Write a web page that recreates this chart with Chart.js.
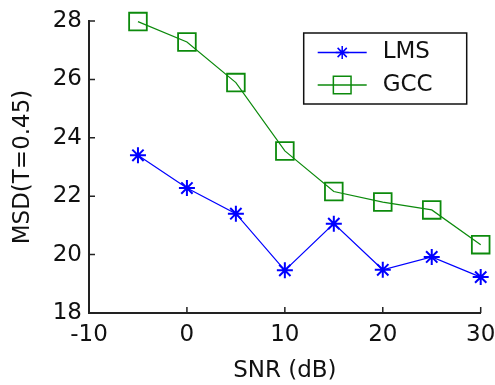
<!DOCTYPE html>
<html>
<head>
<meta charset="utf-8">
<script src="https://cdn.jsdelivr.net/npm/chart.js@4/dist/chart.umd.min.js"></script>
<style>
html,body{margin:0;padding:0;background:#fff;}
#wrap{width:495px;height:385px;}
</style>
</head>
<body>
<div id="wrap"><canvas id="c" width="495" height="385"></canvas></div>
<script>
const snr = [-5, 0, 5, 10, 15, 20, 25, 30];
const lms = [23.40, 22.28, 21.40, 19.46, 21.06, 19.48, 19.92, 19.23];
const gcc = [27.98, 27.28, 25.89, 23.55, 22.16, 21.80, 21.53, 20.34];
const xTicks = [-10, 0, 10, 20, 30];
const yTicks = [18, 20, 22, 24, 26, 28];
const seriesNames = ['LMS', 'GCC'];
const xTitle = 'SNR (dB)';
const yTitle = 'MSD(T=0.45)';

const FONT = '"DejaVu Sans", "Liberation Sans", Arial, sans-serif';
const BLUE = '#0000ff';
const GREEN = '#0c8a0c';

const tickPlugin = {
  id: 'innerTicks',
  afterDraw(chart) {
    const {ctx} = chart;
    const xs = chart.scales.x, ys = chart.scales.y;
    ctx.save();
    ctx.strokeStyle = '#222';
    ctx.lineWidth = 1.5;
    ctx.beginPath();
    xs.ticks.forEach(t => {
      const px = xs.getPixelForValue(t.value);
      ctx.moveTo(px, ys.bottom);
      ctx.lineTo(px, ys.bottom - 6);
    });
    ys.ticks.forEach(t => {
      const py = ys.getPixelForValue(t.value);
      ctx.moveTo(xs.left, py);
      ctx.lineTo(xs.left + 6, py);
    });
    ctx.stroke();
    ctx.restore();
  }
};

const legendPlugin = {
  id: 'boxLegend',
  afterDraw(chart) {
    const {ctx, chartArea} = chart;
    const w = 163, h = 71;
    const x0 = chartArea.right - 177, y0 = chartArea.top + 12;
    ctx.save();
    ctx.fillStyle = '#fff';
    ctx.fillRect(x0, y0, w, h);
    ctx.strokeStyle = '#111';
    ctx.lineWidth = 1.5;
    ctx.strokeRect(x0, y0, w, h);
    chart.data.datasets.forEach((ds, i) => {
      const cy = y0 + 19.5 + i * 32.5;
      ctx.strokeStyle = ds.borderColor;
      ctx.lineWidth = 1.5;
      ctx.beginPath();
      ctx.moveTo(x0 + 14, cy);
      ctx.lineTo(x0 + 63, cy);
      ctx.stroke();
      ctx.fillStyle = 'rgba(0,0,0,0)';
      Chart.helpers.drawPoint(ctx, {
        pointStyle: ds.pointStyle,
        radius: ds.pointStyle === 'star' ? 6.5 : ds.pointRadius,
        borderWidth: ds.pointBorderWidth,
        rotation: 0
      }, x0 + 38.5, cy);
      ctx.fillStyle = '#111';
      ctx.font = '23px ' + FONT;
      ctx.textBaseline = 'middle';
      ctx.textAlign = 'left';
      ctx.fillText(ds.label, x0 + 79, cy);
    });
    ctx.restore();
  }
};

new Chart(document.getElementById('c'), {
  type: 'line',
  data: {
    datasets: [
      {
        label: seriesNames[0],
        data: snr.map((x, i) => ({x: x, y: lms[i]})),
        borderColor: BLUE,
        backgroundColor: 'rgba(0,0,0,0)',
        borderWidth: 1.2,
        pointStyle: 'star',
        pointRadius: 8,
        pointBorderWidth: 2,
        pointBorderColor: BLUE,
        pointBackgroundColor: 'rgba(0,0,0,0)',
        tension: 0,
        clip: false
      },
      {
        label: seriesNames[1],
        data: snr.map((x, i) => ({x: x, y: gcc[i]})),
        borderColor: GREEN,
        backgroundColor: 'rgba(0,0,0,0)',
        borderWidth: 1.2,
        pointStyle: 'rect',
        pointRadius: 12.5,
        pointBorderWidth: 1.8,
        pointBorderColor: GREEN,
        pointBackgroundColor: 'rgba(0,0,0,0)',
        tension: 0,
        clip: false
      }
    ]
  },
  options: {
    responsive: false,
    animation: false,
    devicePixelRatio: 1,
    layout: {padding: {top: 21, right: 14, left: 0, bottom: 0}},
    plugins: {
      legend: {display: false},
      tooltip: {enabled: false}
    },
    scales: {
      x: {
        type: 'linear',
        min: xTicks[0],
        max: xTicks[xTicks.length - 1],
        afterBuildTicks: s => { s.ticks = xTicks.map(v => ({value: v})); },
        afterFit: s => { s.height = 72; s.paddingLeft = 0; s.paddingRight = 0; },
        grid: {display: false, drawTicks: false},
        border: {display: true, color: '#222', width: 2},
        ticks: {color: '#111', font: {family: FONT, size: 23}, padding: 8, maxRotation: 0},
        title: {display: true, text: xTitle, color: '#111', font: {family: FONT, size: 23}, padding: {top: 0, bottom: 0}}
      },
      y: {
        type: 'linear',
        min: yTicks[0],
        max: yTicks[yTicks.length - 1],
        afterBuildTicks: s => { s.ticks = yTicks.map(v => ({value: v})); },
        afterFit: s => { s.width = 89; s.paddingTop = 0; s.paddingBottom = 0; },
        grid: {display: false, drawTicks: false},
        border: {display: true, color: '#222', width: 2},
        ticks: {color: '#111', font: {family: FONT, size: 23}, padding: 7},
        title: {display: true, text: yTitle, color: '#111', font: {family: FONT, size: 23}, padding: {top: 9, bottom: 0}}
      }
    }
  },
  plugins: [tickPlugin, legendPlugin]
});
</script>
</body>
</html>
